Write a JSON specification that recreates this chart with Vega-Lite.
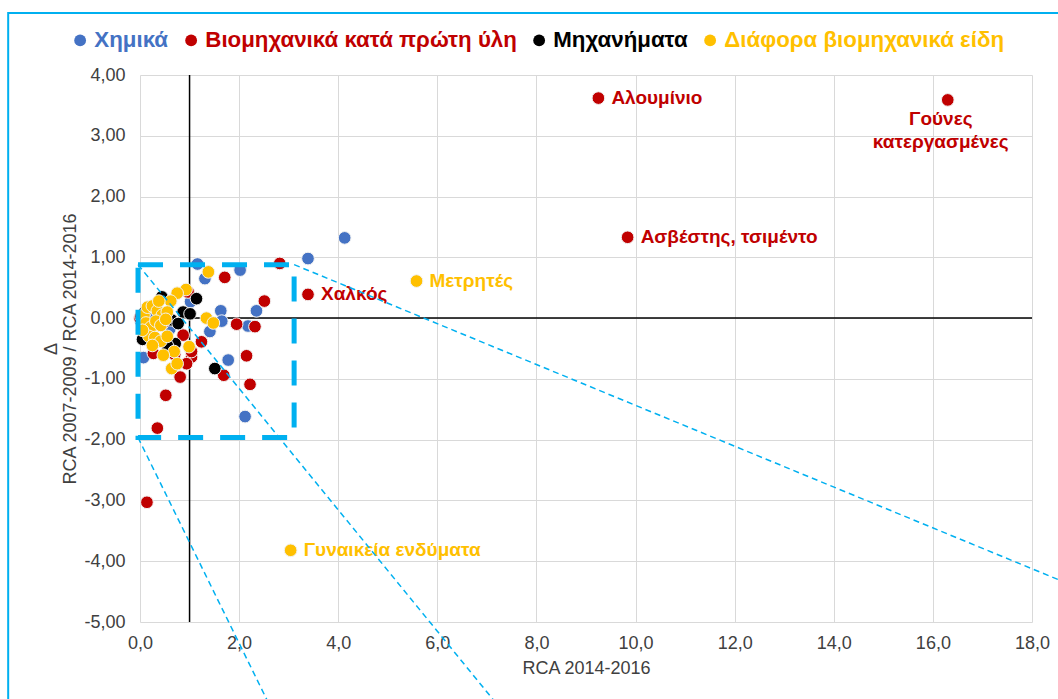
{
  "$schema": "https://vega.github.io/schema/vega-lite/v6.json",
  "autosize": {"type": "none"},
  "width": 892,
  "height": 547,
  "padding": {"left": 140, "top": 75, "right": 26, "bottom": 77},
  "background": "white",
  "config": {
    "view": {"stroke": null},
    "font": "Liberation Sans",
    "axis": {"gridColor": "#D9D9D9", "gridWidth": 1, "domain": false, "ticks": false, "labelFont": "Liberation Sans", "labelFontSize": 18, "labelColor": "#404040", "titleFont": "Liberation Sans", "titleFontSize": 18, "titleFontWeight": "normal", "titleColor": "#404040"}
  },
  "datasets": {
    "pts": [
      {"s": "Χημικά", "x": 3.39, "y": 0.98}, {"s": "Χημικά", "x": 4.13, "y": 1.32}, {"s": "Χημικά", "x": 1.16, "y": 0.89}, {"s": "Χημικά", "x": 2.02, "y": 0.79}, {"s": "Χημικά", "x": 1.31, "y": 0.65}, {"s": "Χημικά", "x": 2.35, "y": 0.12}, {"s": "Χημικά", "x": 1.63, "y": 0.12}, {"s": "Χημικά", "x": 2.18, "y": -0.13}, {"s": "Χημικά", "x": 1.65, "y": -0.05}, {"s": "Χημικά", "x": 1.41, "y": -0.22}, {"s": "Χημικά", "x": 1.78, "y": -0.69}, {"s": "Χημικά", "x": 0.07, "y": -0.65}, {"s": "Χημικά", "x": 2.12, "y": -1.62}, {"s": "Χημικά", "x": 1.02, "y": 0.27}, {"s": "Χημικά", "x": 0.05, "y": -0.12}, {"s": "Χημικά", "x": 0.3, "y": 0.02}, {"s": "Χημικά", "x": 0.6, "y": -0.18}, {"s": "Χημικά", "x": 0.02, "y": -0.05},
      {"s": "Βιομηχανικά κατά πρώτη ύλη", "x": 9.25, "y": 3.62}, {"s": "Βιομηχανικά κατά πρώτη ύλη", "x": 16.3, "y": 3.59}, {"s": "Βιομηχανικά κατά πρώτη ύλη", "x": 9.84, "y": 1.33}, {"s": "Βιομηχανικά κατά πρώτη ύλη", "x": 3.39, "y": 0.39}, {"s": "Βιομηχανικά κατά πρώτη ύλη", "x": 0.14, "y": -3.03}, {"s": "Βιομηχανικά κατά πρώτη ύλη", "x": 2.82, "y": 0.9}, {"s": "Βιομηχανικά κατά πρώτη ύλη", "x": 1.71, "y": 0.67}, {"s": "Βιομηχανικά κατά πρώτη ύλη", "x": 2.51, "y": 0.28}, {"s": "Βιομηχανικά κατά πρώτη ύλη", "x": 1.95, "y": -0.1}, {"s": "Βιομηχανικά κατά πρώτη ύλη", "x": 2.32, "y": -0.14}, {"s": "Βιομηχανικά κατά πρώτη ύλη", "x": 2.15, "y": -0.62}, {"s": "Βιομηχανικά κατά πρώτη ύλη", "x": 2.22, "y": -1.09}, {"s": "Βιομηχανικά κατά πρώτη ύλη", "x": 1.69, "y": -0.94}, {"s": "Βιομηχανικά κατά πρώτη ύλη", "x": 1.24, "y": -0.39}, {"s": "Βιομηχανικά κατά πρώτη ύλη", "x": 1.04, "y": -0.64}, {"s": "Βιομηχανικά κατά πρώτη ύλη", "x": 0.94, "y": -0.75}, {"s": "Βιομηχανικά κατά πρώτη ύλη", "x": 0.81, "y": -0.97}, {"s": "Βιομηχανικά κατά πρώτη ύλη", "x": 0.52, "y": -1.27}, {"s": "Βιομηχανικά κατά πρώτη ύλη", "x": 0.35, "y": -1.81}, {"s": "Βιομηχανικά κατά πρώτη ύλη", "x": 0.27, "y": -0.58}, {"s": "Βιομηχανικά κατά πρώτη ύλη", "x": 0.0, "y": 0.0}, {"s": "Βιομηχανικά κατά πρώτη ύλη", "x": 0.87, "y": -0.28}, {"s": "Βιομηχανικά κατά πρώτη ύλη", "x": 1.04, "y": -0.55}, {"s": "Βιομηχανικά κατά πρώτη ύλη", "x": 0.97, "y": 0.43}, {"s": "Βιομηχανικά κατά πρώτη ύλη", "x": 0.02, "y": 0.03}, {"s": "Βιομηχανικά κατά πρώτη ύλη", "x": 0.45, "y": -0.1}, {"s": "Βιομηχανικά κατά πρώτη ύλη", "x": 0.7, "y": -0.6},
      {"s": "Μηχανήματα", "x": 1.51, "y": -0.83}, {"s": "Μηχανήματα", "x": 1.14, "y": 0.32}, {"s": "Μηχανήματα", "x": 0.44, "y": 0.35}, {"s": "Μηχανήματα", "x": 0.87, "y": 0.1}, {"s": "Μηχανήματα", "x": 1.01, "y": 0.07}, {"s": "Μηχανήματα", "x": 0.07, "y": -0.23}, {"s": "Μηχανήματα", "x": 0.71, "y": -0.42}, {"s": "Μηχανήματα", "x": 0.1, "y": 0.1}, {"s": "Μηχανήματα", "x": 0.64, "y": -0.03}, {"s": "Μηχανήματα", "x": 0.77, "y": -0.09}, {"s": "Μηχανήματα", "x": 0.05, "y": -0.35}, {"s": "Μηχανήματα", "x": 0.55, "y": -0.45},
      {"s": "Διάφορα βιομηχανικά είδη", "x": 5.58, "y": 0.61}, {"s": "Διάφορα βιομηχανικά είδη", "x": 3.04, "y": -3.82}, {"s": "Διάφορα βιομηχανικά είδη", "x": 1.38, "y": 0.76}, {"s": "Διάφορα βιομηχανικά είδη", "x": 0.93, "y": 0.47}, {"s": "Διάφορα βιομηχανικά είδη", "x": 0.75, "y": 0.41}, {"s": "Διάφορα βιομηχανικά είδη", "x": 0.62, "y": 0.28}, {"s": "Διάφορα βιομηχανικά είδη", "x": 1.34, "y": 0.0}, {"s": "Διάφορα βιομηχανικά είδη", "x": 1.48, "y": -0.08}, {"s": "Διάφορα βιομηχανικά είδη", "x": 0.99, "y": -0.47}, {"s": "Διάφορα βιομηχανικά είδη", "x": 0.69, "y": -0.55}, {"s": "Διάφορα βιομηχανικά είδη", "x": 0.47, "y": -0.61}, {"s": "Διάφορα βιομηχανικά είδη", "x": 0.64, "y": -0.83}, {"s": "Διάφορα βιομηχανικά είδη", "x": 0.75, "y": -0.75}, {"s": "Διάφορα βιομηχανικά είδη", "x": 0.08, "y": 0.05}, {"s": "Διάφορα βιομηχανικά είδη", "x": 0.15, "y": 0.18}, {"s": "Διάφορα βιομηχανικά είδη", "x": 0.25, "y": 0.2}, {"s": "Διάφορα βιομηχανικά είδη", "x": 0.35, "y": 0.12}, {"s": "Διάφορα βιομηχανικά είδη", "x": 0.45, "y": 0.05}, {"s": "Διάφορα βιομηχανικά είδη", "x": 0.55, "y": 0.1}, {"s": "Διάφορα βιομηχανικά είδη", "x": 0.12, "y": -0.08}, {"s": "Διάφορα βιομηχανικά είδη", "x": 0.22, "y": -0.15}, {"s": "Διάφορα βιομηχανικά είδη", "x": 0.32, "y": -0.05}, {"s": "Διάφορα βιομηχανικά είδη", "x": 0.42, "y": -0.12}, {"s": "Διάφορα βιομηχανικά είδη", "x": 0.52, "y": -0.02}, {"s": "Διάφορα βιομηχανικά είδη", "x": 0.18, "y": -0.3}, {"s": "Διάφορα βιομηχανικά είδη", "x": 0.3, "y": -0.32}, {"s": "Διάφορα βιομηχανικά είδη", "x": 0.42, "y": -0.38}, {"s": "Διάφορα βιομηχανικά είδη", "x": 0.55, "y": -0.3}, {"s": "Διάφορα βιομηχανικά είδη", "x": 0.25, "y": -0.45}, {"s": "Διάφορα βιομηχανικά είδη", "x": 0.38, "y": 0.28}, {"s": "Διάφορα βιομηχανικά είδη", "x": 0.05, "y": -0.2}
    ],
    "labels": [
      {"s": "Βιομηχανικά κατά πρώτη ύλη", "x": 9.25, "y": 3.62, "label": "Αλουμίνιο"},
      {"s": "Βιομηχανικά κατά πρώτη ύλη", "x": 9.84, "y": 1.33, "label": "Ασβέστης, τσιμέντο"},
      {"s": "Βιομηχανικά κατά πρώτη ύλη", "x": 3.39, "y": 0.39, "label": "Χαλκός"},
      {"s": "Διάφορα βιομηχανικά είδη", "x": 5.58, "y": 0.61, "label": "Μετρητές"},
      {"s": "Διάφορα βιομηχανικά είδη", "x": 3.04, "y": -3.82, "label": "Γυναικεία ενδύματα"},
      {"s": "Βιομηχανικά κατά πρώτη ύλη", "x": 16.3, "y": 3.59, "label": "Γούνες\nκατεργασμένες"}
    ],
    "frame": [{"x": -2.66, "x2": 21, "y": 5.02, "y2": -7.5}],
    "vrule": [{"x": 1, "y": -5, "y2": 4}],
    "hrule": [{"x": 0, "x2": 18, "y": 0}],
    "box": [{"x": -0.04, "x2": 3.11, "y": 0.88, "y2": -1.965}],
    "zlines": [
      {"id": "a", "x": 3.11, "y": 0.88}, {"id": "a", "x": 19.0, "y": -4.46},
      {"id": "b", "x": -0.04, "y": 0.88}, {"id": "b", "x": 7.46, "y": -6.61},
      {"id": "c", "x": -0.04, "y": -1.965}, {"id": "c", "x": 2.76, "y": -6.61}
    ]
  },
  "encoding": {
    "x": {"field": "x", "type": "quantitative", "scale": {"domain": [0, 18], "nice": false, "zero": false},
      "axis": {"title": "RCA 2014-2016", "values": [0, 2, 4, 6, 8, 10, 12, 14, 16, 18], "labelExpr": "replace(format(datum.value, '.1f'), '.', ',')", "labelPadding": 12, "titlePadding": 7, "labelFlush": false}},
    "y": {"field": "y", "type": "quantitative", "scale": {"domain": [-5, 4], "nice": false, "zero": false},
      "axis": {"title": ["Δ", "RCA 2007-2009 / RCA 2014-2016"], "values": [-5, -4, -3, -2, -1, 0, 1, 2, 3, 4], "labelExpr": "replace(replace(format(datum.value, '.2f'), '.', ','), '−', '-')", "labelPadding": 15, "titlePadding": 4, "titleLineHeight": 19}}
  },
  "layer": [
    {"data": {"name": "frame"}, "mark": {"type": "rect", "fill": null, "stroke": "#00B0F0", "strokeWidth": 2, "clip": false},
      "encoding": {"x2": {"field": "x2"}, "y2": {"field": "y2"}}},
    {"data": {"name": "vrule"}, "mark": {"type": "rule", "color": "black", "strokeWidth": 1.5},
      "encoding": {"y2": {"field": "y2"}}},
    {"data": {"name": "hrule"}, "mark": {"type": "rule", "color": "black", "strokeWidth": 1.5},
      "encoding": {"x2": {"field": "x2"}}},
    {"data": {"name": "pts"}, "mark": {"type": "point", "shape": "circle", "filled": true, "size": 160, "opacity": 1, "stroke": "#F2F2F2", "strokeWidth": 1},
      "encoding": {"color": {"field": "s", "type": "nominal",
        "scale": {"domain": ["Χημικά", "Βιομηχανικά κατά πρώτη ύλη", "Μηχανήματα", "Διάφορα βιομηχανικά είδη"], "range": ["#4472C4", "#C00000", "#000000", "#FFC000"]},
        "legend": {"orient": "none", "legendX": -71, "legendY": -46, "direction": "horizontal", "title": null, "symbolType": "circle", "symbolSize": 140, "symbolStrokeWidth": 0, "symbolOpacity": 1, "labelFontSize": 22.3, "labelFont": "Liberation Sans", "labelFontWeight": "bold", "columnPadding": 11, "labelOffset": 3, "padding": 0, "labelLimit": 400,
          "labelColor": {"expr": "datum.value == 'Χημικά' ? '#4472C4' : datum.value == 'Μηχανήματα' ? '#000000' : datum.value == 'Διάφορα βιομηχανικά είδη' ? '#FFC000' : '#C00000'"}}}}},
    {"data": {"name": "labels"}, "transform": [{"filter": "datum.x < 12"}],
      "mark": {"type": "text", "align": "left", "baseline": "middle", "dx": 13, "fontSize": 19, "fontWeight": "bold", "font": "Liberation Sans", "clip": false},
      "encoding": {"text": {"field": "label"}, "color": {"field": "s", "type": "nominal", "legend": null}}},
    {"data": {"name": "labels"}, "transform": [{"filter": "datum.x > 12"}],
      "mark": {"type": "text", "align": "center", "baseline": "top", "dx": -7, "dy": 10, "lineBreak": "\n", "lineHeight": 23, "fontSize": 19, "fontWeight": "bold", "font": "Liberation Sans"},
      "encoding": {"text": {"field": "label"}, "color": {"field": "s", "type": "nominal", "legend": null}}},
    {"data": {"name": "box"}, "mark": {"type": "rect", "fill": null, "stroke": "#00B0F0", "strokeWidth": 5, "strokeDash": [25, 17], "clip": false},
      "encoding": {"x2": {"field": "x2"}, "y2": {"field": "y2"}}},
    {"data": {"name": "zlines"}, "mark": {"type": "line", "color": "#00B0F0", "strokeWidth": 1.5, "strokeDash": [6, 4], "clip": false},
      "encoding": {"detail": {"field": "id"}}}
  ]
}
